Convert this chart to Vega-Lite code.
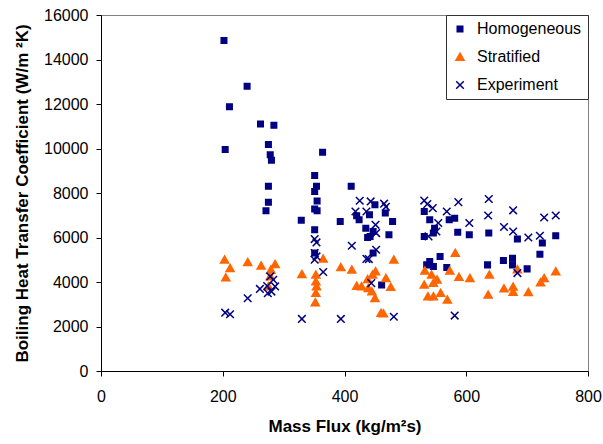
{
  "$schema": "https://vega.github.io/schema/vega-lite/v6.json",
  "width": 487,
  "height": 356,
  "autosize": {"type": "none"},
  "padding": {"left": 101, "top": 15, "right": 15, "bottom": 73},
  "background": "white",
  "config": {
    "font": "Liberation Sans",
    "view": {"stroke": "#808080", "strokeWidth": 1},
    "axis": {
      "grid": false,
      "domainColor": "#000000",
      "tickColor": "#000000",
      "tickSize": 5,
      "labelFont": "Liberation Sans",
      "labelFontSize": 16,
      "labelColor": "#000000",
      "titleFont": "Liberation Sans",
      "titleFontSize": 17,
      "titleFontWeight": "bold",
      "titleColor": "#000000"
    },
    "legend": {
      "strokeColor": "#333333",
      "fillColor": "white",
      "padding": 6,
      "labelFont": "Liberation Sans",
      "labelFontSize": 16,
      "labelColor": "#000000",
      "labelOffset": 9,
      "rowPadding": 12,
      "symbolSize": 64,
      "symbolStrokeWidth": 1.5
    }
  },
  "data": {
    "values": [
      {"series": "Homogeneous", "flux": 202, "htc": 14850},
      {"series": "Homogeneous", "flux": 240, "htc": 12800},
      {"series": "Homogeneous", "flux": 211, "htc": 11880},
      {"series": "Homogeneous", "flux": 262, "htc": 11100},
      {"series": "Homogeneous", "flux": 284, "htc": 11040},
      {"series": "Homogeneous", "flux": 275, "htc": 10180},
      {"series": "Homogeneous", "flux": 204, "htc": 9950},
      {"series": "Homogeneous", "flux": 278, "htc": 9720},
      {"series": "Homogeneous", "flux": 280, "htc": 9470},
      {"series": "Homogeneous", "flux": 364, "htc": 9830},
      {"series": "Homogeneous", "flux": 275, "htc": 8300},
      {"series": "Homogeneous", "flux": 275, "htc": 7580},
      {"series": "Homogeneous", "flux": 271, "htc": 7200},
      {"series": "Homogeneous", "flux": 351, "htc": 8790},
      {"series": "Homogeneous", "flux": 354, "htc": 8300},
      {"series": "Homogeneous", "flux": 351, "htc": 8070},
      {"series": "Homogeneous", "flux": 355, "htc": 7640},
      {"series": "Homogeneous", "flux": 351, "htc": 7280},
      {"series": "Homogeneous", "flux": 355, "htc": 7200},
      {"series": "Homogeneous", "flux": 329, "htc": 6780},
      {"series": "Homogeneous", "flux": 351, "htc": 6350},
      {"series": "Homogeneous", "flux": 351, "htc": 5300},
      {"series": "Homogeneous", "flux": 411, "htc": 8300},
      {"series": "Homogeneous", "flux": 393, "htc": 6720},
      {"series": "Homogeneous", "flux": 420, "htc": 6975},
      {"series": "Homogeneous", "flux": 424, "htc": 6800},
      {"series": "Homogeneous", "flux": 435, "htc": 6420},
      {"series": "Homogeneous", "flux": 438, "htc": 6000},
      {"series": "Homogeneous", "flux": 450, "htc": 7470},
      {"series": "Homogeneous", "flux": 441, "htc": 7020},
      {"series": "Homogeneous", "flux": 467, "htc": 7100},
      {"series": "Homogeneous", "flux": 479, "htc": 6720},
      {"series": "Homogeneous", "flux": 447, "htc": 6270},
      {"series": "Homogeneous", "flux": 442, "htc": 6050},
      {"series": "Homogeneous", "flux": 473, "htc": 6120},
      {"series": "Homogeneous", "flux": 447, "htc": 5300},
      {"series": "Homogeneous", "flux": 461, "htc": 3870},
      {"series": "Homogeneous", "flux": 531, "htc": 7170},
      {"series": "Homogeneous", "flux": 540, "htc": 6800},
      {"series": "Homogeneous", "flux": 531, "htc": 6050},
      {"series": "Homogeneous", "flux": 546, "htc": 6200},
      {"series": "Homogeneous", "flux": 548, "htc": 6420},
      {"series": "Homogeneous", "flux": 572, "htc": 6800},
      {"series": "Homogeneous", "flux": 581, "htc": 6870},
      {"series": "Homogeneous", "flux": 586, "htc": 6240},
      {"series": "Homogeneous", "flux": 605, "htc": 6120},
      {"series": "Homogeneous", "flux": 557, "htc": 5150},
      {"series": "Homogeneous", "flux": 540, "htc": 4920},
      {"series": "Homogeneous", "flux": 546, "htc": 4700},
      {"series": "Homogeneous", "flux": 568, "htc": 4650},
      {"series": "Homogeneous", "flux": 535, "htc": 4770},
      {"series": "Homogeneous", "flux": 637, "htc": 6200},
      {"series": "Homogeneous", "flux": 684, "htc": 5930},
      {"series": "Homogeneous", "flux": 725, "htc": 5750},
      {"series": "Homogeneous", "flux": 747, "htc": 6080},
      {"series": "Homogeneous", "flux": 721, "htc": 5250},
      {"series": "Homogeneous", "flux": 635, "htc": 4770},
      {"series": "Homogeneous", "flux": 661, "htc": 4970},
      {"series": "Homogeneous", "flux": 676, "htc": 5070},
      {"series": "Homogeneous", "flux": 676, "htc": 4770},
      {"series": "Homogeneous", "flux": 700, "htc": 4590},
      {"series": "Stratified", "flux": 203, "htc": 5000},
      {"series": "Stratified", "flux": 212, "htc": 4620},
      {"series": "Stratified", "flux": 205, "htc": 4200},
      {"series": "Stratified", "flux": 241, "htc": 4890},
      {"series": "Stratified", "flux": 263, "htc": 4730},
      {"series": "Stratified", "flux": 286, "htc": 4800},
      {"series": "Stratified", "flux": 279, "htc": 4550},
      {"series": "Stratified", "flux": 278, "htc": 4250},
      {"series": "Stratified", "flux": 275, "htc": 3800},
      {"series": "Stratified", "flux": 330, "htc": 4350},
      {"series": "Stratified", "flux": 353, "htc": 4320},
      {"series": "Stratified", "flux": 353, "htc": 4020},
      {"series": "Stratified", "flux": 354, "htc": 3800},
      {"series": "Stratified", "flux": 353, "htc": 3500},
      {"series": "Stratified", "flux": 352, "htc": 3080},
      {"series": "Stratified", "flux": 365, "htc": 5040},
      {"series": "Stratified", "flux": 394, "htc": 4660},
      {"series": "Stratified", "flux": 412, "htc": 4550},
      {"series": "Stratified", "flux": 420, "htc": 3820},
      {"series": "Stratified", "flux": 428, "htc": 3800},
      {"series": "Stratified", "flux": 438, "htc": 4120},
      {"series": "Stratified", "flux": 439, "htc": 3720},
      {"series": "Stratified", "flux": 445, "htc": 3570},
      {"series": "Stratified", "flux": 450, "htc": 3270},
      {"series": "Stratified", "flux": 451, "htc": 4470},
      {"series": "Stratified", "flux": 446, "htc": 4320},
      {"series": "Stratified", "flux": 468, "htc": 4170},
      {"series": "Stratified", "flux": 476, "htc": 3770},
      {"series": "Stratified", "flux": 481, "htc": 5000},
      {"series": "Stratified", "flux": 460, "htc": 2600},
      {"series": "Stratified", "flux": 464, "htc": 2580},
      {"series": "Stratified", "flux": 532, "htc": 4500},
      {"series": "Stratified", "flux": 531, "htc": 3870},
      {"series": "Stratified", "flux": 543, "htc": 4320},
      {"series": "Stratified", "flux": 546, "htc": 3950},
      {"series": "Stratified", "flux": 552, "htc": 4100},
      {"series": "Stratified", "flux": 537, "htc": 3350},
      {"series": "Stratified", "flux": 546, "htc": 3350},
      {"series": "Stratified", "flux": 558, "htc": 3500},
      {"series": "Stratified", "flux": 569, "htc": 3200},
      {"series": "Stratified", "flux": 573, "htc": 4500},
      {"series": "Stratified", "flux": 582, "htc": 5300},
      {"series": "Stratified", "flux": 588, "htc": 4220},
      {"series": "Stratified", "flux": 606, "htc": 4170},
      {"series": "Stratified", "flux": 638, "htc": 4320},
      {"series": "Stratified", "flux": 636, "htc": 3420},
      {"series": "Stratified", "flux": 662, "htc": 3700},
      {"series": "Stratified", "flux": 677, "htc": 3780},
      {"series": "Stratified", "flux": 677, "htc": 3550},
      {"series": "Stratified", "flux": 684, "htc": 4560},
      {"series": "Stratified", "flux": 702, "htc": 3540},
      {"series": "Stratified", "flux": 722, "htc": 3980},
      {"series": "Stratified", "flux": 728, "htc": 4170},
      {"series": "Stratified", "flux": 747, "htc": 4470},
      {"series": "Experiment", "flux": 204, "htc": 2620},
      {"series": "Experiment", "flux": 212, "htc": 2550},
      {"series": "Experiment", "flux": 241, "htc": 3270},
      {"series": "Experiment", "flux": 261, "htc": 3690},
      {"series": "Experiment", "flux": 273, "htc": 3820},
      {"series": "Experiment", "flux": 278, "htc": 4250},
      {"series": "Experiment", "flux": 283, "htc": 4100},
      {"series": "Experiment", "flux": 286, "htc": 3800},
      {"series": "Experiment", "flux": 274, "htc": 3500},
      {"series": "Experiment", "flux": 280, "htc": 3570},
      {"series": "Experiment", "flux": 330, "htc": 2340},
      {"series": "Experiment", "flux": 351, "htc": 5930},
      {"series": "Experiment", "flux": 354, "htc": 5780},
      {"series": "Experiment", "flux": 351, "htc": 5300},
      {"series": "Experiment", "flux": 354, "htc": 5150},
      {"series": "Experiment", "flux": 351, "htc": 5000},
      {"series": "Experiment", "flux": 365, "htc": 4450},
      {"series": "Experiment", "flux": 394, "htc": 2340},
      {"series": "Experiment", "flux": 412, "htc": 5630},
      {"series": "Experiment", "flux": 425, "htc": 7650},
      {"series": "Experiment", "flux": 418, "htc": 7170},
      {"series": "Experiment", "flux": 436, "htc": 7170},
      {"series": "Experiment", "flux": 436, "htc": 5040},
      {"series": "Experiment", "flux": 443, "htc": 7620},
      {"series": "Experiment", "flux": 465, "htc": 7520},
      {"series": "Experiment", "flux": 468, "htc": 7380},
      {"series": "Experiment", "flux": 451, "htc": 6570},
      {"series": "Experiment", "flux": 452, "htc": 6200},
      {"series": "Experiment", "flux": 452, "htc": 5450},
      {"series": "Experiment", "flux": 440, "htc": 5030},
      {"series": "Experiment", "flux": 444, "htc": 3950},
      {"series": "Experiment", "flux": 481, "htc": 2440},
      {"series": "Experiment", "flux": 531, "htc": 7660},
      {"series": "Experiment", "flux": 545, "htc": 7320},
      {"series": "Experiment", "flux": 536, "htc": 7500},
      {"series": "Experiment", "flux": 554, "htc": 6650},
      {"series": "Experiment", "flux": 551, "htc": 6270},
      {"series": "Experiment", "flux": 538, "htc": 6050},
      {"series": "Experiment", "flux": 568, "htc": 7170},
      {"series": "Experiment", "flux": 587, "htc": 7590},
      {"series": "Experiment", "flux": 581, "htc": 2490},
      {"series": "Experiment", "flux": 605, "htc": 6650},
      {"series": "Experiment", "flux": 637, "htc": 7730},
      {"series": "Experiment", "flux": 636, "htc": 6990},
      {"series": "Experiment", "flux": 677, "htc": 7220},
      {"series": "Experiment", "flux": 662, "htc": 6470},
      {"series": "Experiment", "flux": 677, "htc": 6270},
      {"series": "Experiment", "flux": 702, "htc": 6000},
      {"series": "Experiment", "flux": 721, "htc": 6080},
      {"series": "Experiment", "flux": 728, "htc": 6900},
      {"series": "Experiment", "flux": 747, "htc": 6990},
      {"series": "Experiment", "flux": 684, "htc": 4400}
    ]
  },
  "mark": {"type": "point", "filled": false, "strokeWidth": 1.5, "opacity": 1, "size": 64},
  "encoding": {
    "x": {
      "field": "flux",
      "type": "quantitative",
      "scale": {"domain": [0, 800], "nice": false, "zero": true},
      "axis": {
        "title": "Mass Flux  (kg/m²s)",
        "values": [0, 200, 400, 600, 800],
        "labelPadding": 12,
        "titlePadding": 14,
        "labelFlush": false
      }
    },
    "y": {
      "field": "htc",
      "type": "quantitative",
      "scale": {"domain": [0, 16000], "nice": false},
      "axis": {
        "title": "Boiling Heat Transfer Coefficient (W/m ²K)",
        "values": [0, 2000, 4000, 6000, 8000, 10000, 12000, 14000, 16000],
        "format": "d",
        "labelPadding": 8,
        "titlePadding": 12,
        "labelFlush": false
      }
    },
    "shape": {
      "field": "series",
      "type": "nominal",
      "scale": {
        "domain": ["Homogeneous", "Stratified", "Experiment"],
        "range": ["M-0.69,-0.69H0.69V0.69H-0.69Z", "M0,-0.95L1,0.8L-1,0.8Z", "M-0.95,-0.95L0.95,0.95M-0.95,0.95L0.95,-0.95"]
      },
      "legend": {"title": null, "orient": "top-right", "offset": 0}
    },
    "fill": {
      "field": "series",
      "type": "nominal",
      "scale": {
        "domain": ["Homogeneous", "Stratified", "Experiment"],
        "range": ["#000080", "#FF6600", "#000080"]
      },
      "legend": {"title": null, "orient": "top-right", "offset": 0}
    },
    "stroke": {
      "field": "series",
      "type": "nominal",
      "scale": {
        "domain": ["Homogeneous", "Stratified", "Experiment"],
        "range": ["#000080", "#FF6600", "#000080"]
      },
      "legend": {"title": null, "orient": "top-right", "offset": 0}
    }
  }
}
